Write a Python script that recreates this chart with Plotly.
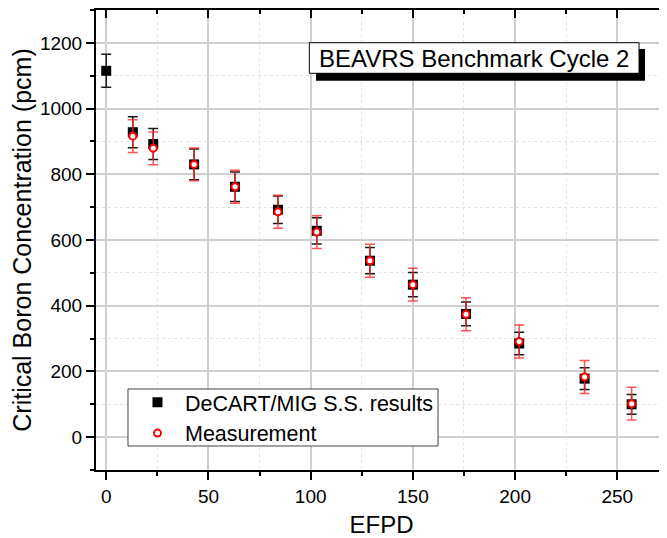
import plotly.graph_objects as go

# ---- data ----
efpd_calc = [0, 13, 23, 43, 63, 84, 103, 129, 150, 176, 202, 234, 257]
boron_calc = [1115, 928, 892, 830, 762, 692, 628, 537, 464, 375, 285, 178, 100]
err_calc = [50, 47, 47, 47, 45, 42, 40, 40, 37, 36, 34, 33, 30]

efpd_meas = [13, 23, 43, 63, 84, 103, 129, 150, 176, 202, 234, 257]
boron_meas = [916, 879, 830, 762, 686, 624, 537, 464, 374, 291, 183, 102]
err_meas = [50, 50, 50, 50, 50, 50, 50, 50, 50, 50, 50, 50]

x_ticks = [0, 50, 100, 150, 200, 250]
y_ticks = [0, 200, 400, 600, 800, 1000, 1200]

XR = [-5, 274.3]
YR = [-100, 1300]
FONT = "Liberation Sans, Arial, sans-serif"

fig = go.Figure()

fig.add_trace(go.Scatter(
    x=efpd_calc, y=boron_calc, mode="markers",
    name="DeCART/MIG S.S. results",
    marker=dict(symbol="square", size=10, color="black"),
    error_y=dict(type="data", array=err_calc, visible=True,
                 color="#1a1a1a", thickness=1.5, width=5),
))
fig.add_trace(go.Scatter(
    x=efpd_meas, y=boron_meas, mode="markers",
    name="Measurement",
    marker=dict(symbol="circle", size=7, color="white",
                line=dict(color="#ff0000", width=2)),
    error_y=dict(type="data", array=err_meas, visible=True,
                 color="rgba(255,40,40,0.8)", thickness=1.5, width=5),
))
# empty trace to host the mirrored (top/right) axes
fig.add_trace(go.Scatter(x=[], y=[], xaxis="x2", yaxis="y2",
                         showlegend=False, hoverinfo="skip"))

grid_major = "#cfcfcf"
grid_minor = "#e2e2e2"

fig.update_layout(
    width=659, height=530,
    margin=dict(l=88, r=0, t=2, b=68, autoexpand=False),
    paper_bgcolor="white", plot_bgcolor="white",
    font=dict(family=FONT, color="black"),
    xaxis=dict(
        range=XR, tickvals=x_ticks, ticktext=[str(v) for v in x_ticks],
        automargin=False,
        showline=True, linecolor="black", linewidth=2,
        ticks="outside", ticklen=8, tickwidth=2, tickcolor="black",
        tickfont=dict(size=19, family=FONT),
        showgrid=True, gridcolor=grid_major, gridwidth=1.5,
        zeroline=False,
        minor=dict(dtick=25, tick0=0, ticks="outside", ticklen=4, tickwidth=2,
                   tickcolor="black", showgrid=True, gridcolor=grid_minor,
                   griddash="dot", gridwidth=1),
        title=dict(text="EFPD", font=dict(size=24, family=FONT), standoff=19),
    ),
    yaxis=dict(
        range=YR, tickvals=y_ticks, ticktext=[str(v) for v in y_ticks],
        automargin=False,
        showline=True, linecolor="black", linewidth=2,
        ticks="outside", ticklen=8, tickwidth=2, tickcolor="black",
        tickfont=dict(size=19, family=FONT),
        showgrid=True, gridcolor=grid_major, gridwidth=1.5,
        zeroline=False,
        minor=dict(dtick=100, tick0=0, ticks="outside", ticklen=4, tickwidth=2,
                   tickcolor="black", showgrid=True, gridcolor=grid_minor,
                   griddash="dot", gridwidth=1),
        title=dict(text="Critical Boron Concentration (pcm)",
                   font=dict(size=25, family=FONT), standoff=4),
    ),
    xaxis2=dict(
        range=XR, overlaying="x", side="top", anchor="y2",
        automargin=False,
        tickvals=x_ticks, showticklabels=False,
        showline=True, linecolor="black", linewidth=2,
        ticks="inside", ticklen=8, tickwidth=2, tickcolor="black",
        showgrid=False, zeroline=False,
        minor=dict(dtick=25, tick0=0, ticks="inside", ticklen=4, tickwidth=2,
                   tickcolor="black", showgrid=False),
    ),
    yaxis2=dict(
        range=YR, overlaying="y", side="right", anchor="x2",
        automargin=False,
        tickvals=y_ticks, showticklabels=False,
        showline=False,
        ticks="inside", ticklen=7, tickwidth=2, tickcolor="black",
        showgrid=False, zeroline=False,
        minor=dict(dtick=100, tick0=0, ticks="inside", ticklen=4, tickwidth=2,
                   tickcolor="black", showgrid=False),
    ),
    legend=dict(
        x=0.0595, y=0.192, xanchor="left", yanchor="top",
        bgcolor="rgba(0,0,0,0)", borderwidth=0,
        font=dict(size=21.5, family=FONT),
        itemwidth=45,
        tracegroupgap=0,
    ),
    showlegend=True,
)

# Legend frame (paper coordinates)
fig.add_shape(type="rect", xref="paper", yref="paper",
              x0=0.056, x1=0.599, y0=0.0522, y1=0.1761,
              fillcolor="white", line=dict(color="#444", width=1), layer="above")

# Title box with drop shadow (paper coordinates)
fig.add_shape(type="rect", xref="paper", yref="paper",
              x0=0.3853, x1=0.9615, y0=0.8463, y1=0.9152,
              fillcolor="black", line=dict(width=0), layer="above")
fig.add_shape(type="rect", xref="paper", yref="paper",
              x0=0.3736, x1=0.951, y0=0.8624, y1=0.9289,
              fillcolor="white", line=dict(color="black", width=1), layer="above")
fig.add_annotation(xref="paper", yref="paper", x=(0.3736 + 0.951) / 2,
                   y=(0.8624 + 0.9289) / 2, text="BEAVRS Benchmark Cycle 2",
                   showarrow=False, font=dict(size=24, family=FONT, color="black"),
                   xanchor="center", yanchor="middle")

fig.write_html("out.html")
